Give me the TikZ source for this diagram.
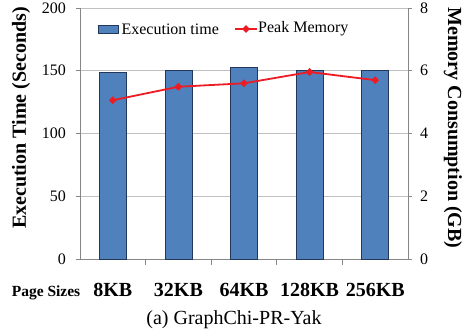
\documentclass[tikz,border=0pt]{standalone}
\usepackage{fontspec}
\setmainfont{Liberation Serif}
\usetikzlibrary{positioning,shapes.geometric}
\definecolor{barblue}{RGB}{79,129,189}
\definecolor{baredge}{RGB}{35,55,90}
\definecolor{memred}{RGB}{237,28,36}
\definecolor{gridgray}{RGB}{192,192,192}
\definecolor{axisgray}{RGB}{134,134,134}

\begin{document}
\begin{tikzpicture}[x=1pt,y=-1pt,
    bar/.style={fill=barblue,draw=baredge,line width=0.8pt},
    gridline/.style={draw=gridgray,line width=1pt},
    axisline/.style={draw=axisgray,line width=1pt},
    memline/.style={draw=memred,line width=1.8pt},
    memmark/.style={diamond,fill=memred,inner sep=0pt,minimum size=8pt},
    ticklabel/.style={font=\fontsize{16}{16}\selectfont,inner sep=1pt},
    legendtext/.style={font=\fontsize{16}{16}\selectfont,inner sep=1pt,anchor=west},
    axistitle/.style={font=\bfseries\fontsize{20}{20}\selectfont,inner sep=0pt},
    catlabel/.style={font=\bfseries\fontsize{20}{20}\selectfont,anchor=base,inner sep=0pt}]
    \useasboundingbox (0,0) rectangle (465,335);
    % grid and axes
    \foreach \v in {50,100,150,200}
        \draw[gridline] (80,{259-1.255*\v}) -- (408,{259-1.255*\v});
    \draw[axisline] (80,8) -- (80,259) -- (408,259) -- (408,8);
    \foreach \v in {0,50,...,200}{
        \draw[axisline] (76,{259-1.255*\v}) -- (80,{259-1.255*\v});
        \node[ticklabel,anchor=east] (t\v) at (67,{259-1.255*\v}) {\v};
    }
    \foreach \g in {0,2,4,6,8}{
        \draw[axisline] (408,{259-31.375*\g}) -- (412,{259-31.375*\g});
        \node[ticklabel,anchor=west] (g\g) at (419,{259-31.375*\g}) {\g};
    }
    \foreach \i in {1,...,4}
        \draw[axisline] ({80+65.6*\i},259) -- ({80+65.6*\i},265);
    % execution time bars
    \foreach \i/\t in {1/149,2/150.5,3/152.5,4/150.5,5/150}
        \draw[bar] ({80+65.6*\i-46.3},259) rectangle ({80+65.6*\i-19.3},{259-1.255*\t});
    % peak memory line
    \foreach \i/\m in {1/5.06,2/5.49,3/5.6,4/5.96,5/5.7}
        \node[memmark] (m\i) at ({80+65.6*\i-32.8},{259-31.375*\m}) {};
    \draw[memline] (m1.center) -- (m2.center) -- (m3.center) -- (m4.center) -- (m5.center);
    % legend
    \node[bar,minimum width=20pt,minimum height=8pt,inner sep=0pt] (lbar) at (108,29) {};
    \node[legendtext,right=2pt of lbar] (ltime) {Execution time};
    \node[memmark] (lmark) at (246,29) {};
    \coordinate (lstart) at (235,29);
    \coordinate (lend) at (257,29);
    \draw[memline] (lstart) -- (lend);
    \node[legendtext,right=0pt of lend] (lmem) {Peak Memory};
    % axis titles
    \node[axistitle,rotate=90] (ytitle) at (21,118) {Execution Time (Seconds)};
    \node[axistitle,rotate=-90] (mtitle) at (453,128) {Memory Consumption (GB)};
    % page sizes
    \node[catlabel,font=\bfseries\fontsize{15.5}{15.5}\selectfont] (psize) at (46,296) {Page Sizes};
    \foreach \i/\s in {1/8KB,2/32KB,3/64KB,4/128KB,5/256KB}
        \node[catlabel] (c\i) at ({80+65.6*\i-32.8},296) {\s};
    \node[font=\fontsize{20}{20}\selectfont,anchor=base,inner sep=0pt] (caption) at (234,324) {(a) GraphChi-PR-Yak};
\end{tikzpicture}
\end{document}
